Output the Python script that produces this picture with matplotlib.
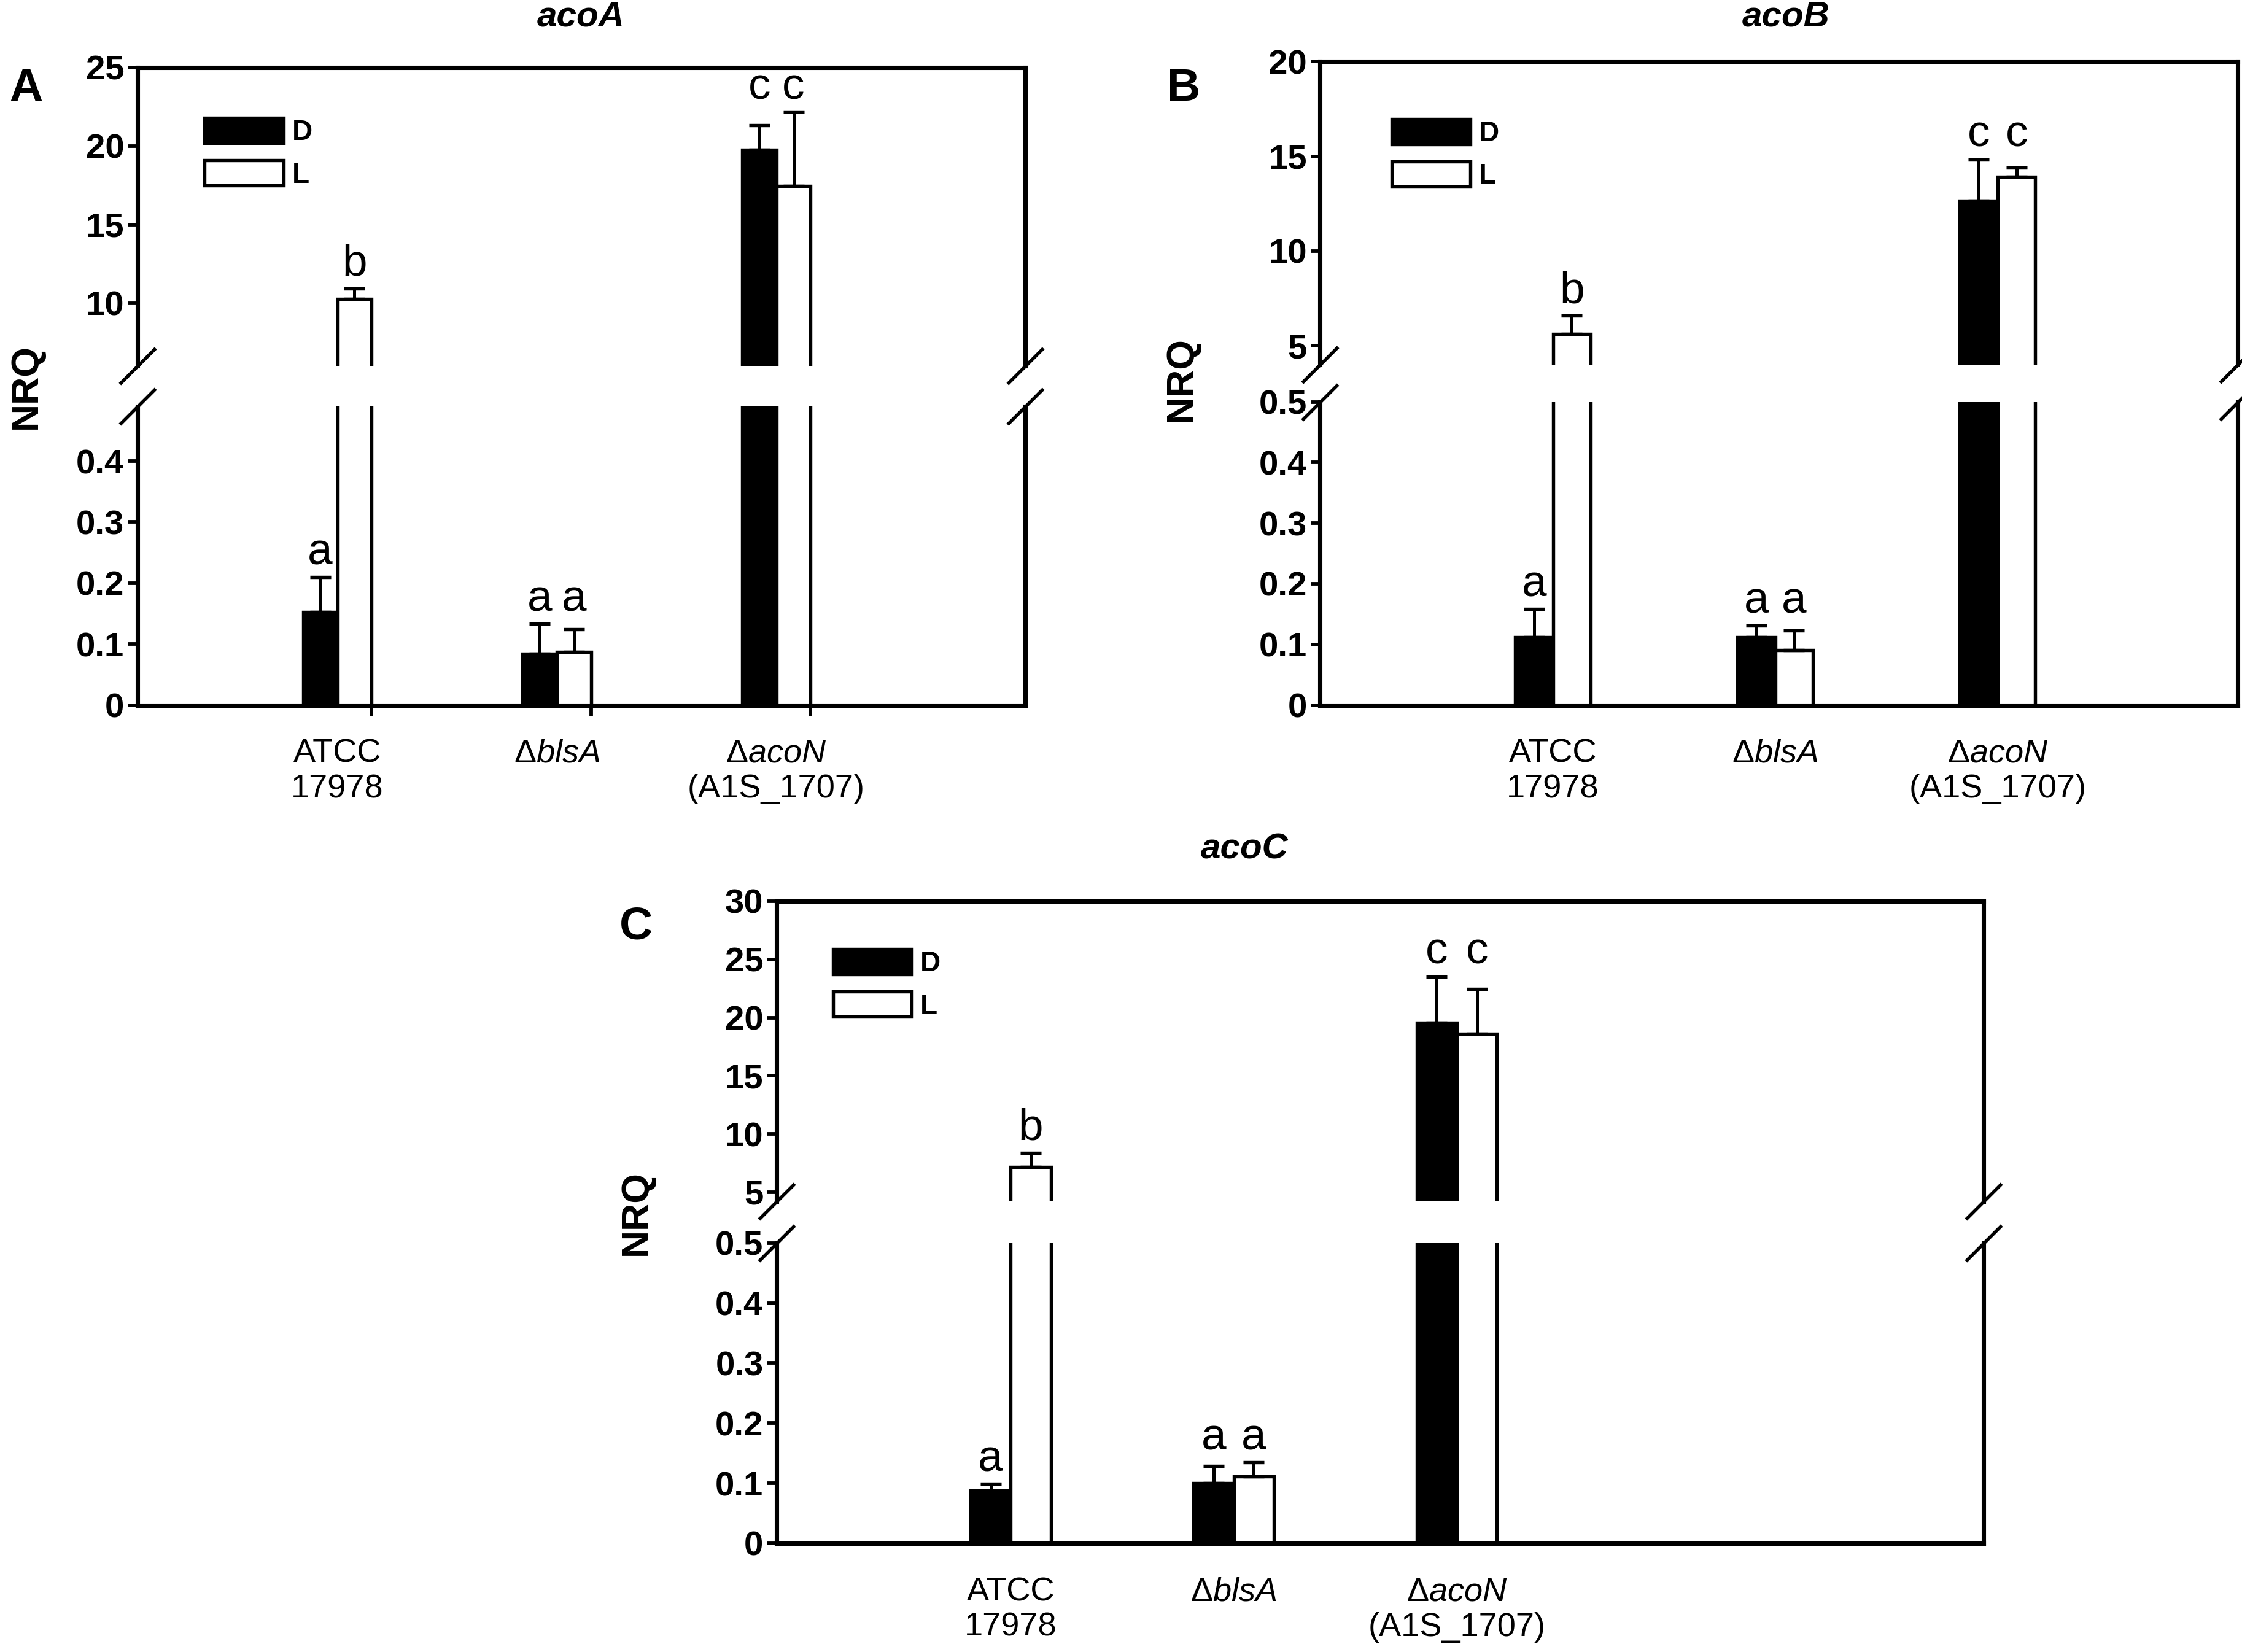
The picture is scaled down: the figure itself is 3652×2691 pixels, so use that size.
import numpy as np
import matplotlib
matplotlib.use('Agg')
import matplotlib.pyplot as plt

plt.rcParams['font.family'] = ['Liberation Sans', 'DejaVu Sans']
plt.rcParams['mathtext.fontset'] = 'custom'
plt.rcParams['mathtext.rm'] = 'Liberation Sans'
plt.rcParams['mathtext.it'] = 'Liberation Sans:italic'
plt.rcParams['mathtext.bf'] = 'Liberation Sans:bold'


# strains on the x axis
groups = ['ATCC\n17978', r'$\mathit{\Delta blsA}$', r'$\mathit{\Delta acoN}$' + '\n(A1S_1707)']
series_names = ['D', 'L']

# acoA
acoA_D = [0.153, 0.084, 19.77]
acoA_D_err = [0.057, 0.049, 1.56]
acoA_L = [10.25, 0.087, 17.43]
acoA_L_err = [0.70, 0.037, 4.74]

# acoB
acoB_D = [0.112, 0.112, 12.65]
acoB_D_err = [0.046, 0.019, 2.18]
acoB_L = [5.64, 0.091, 13.90]
acoB_L_err = [0.96, 0.032, 0.50]

# acoC
acoC_D = [0.088, 0.100, 19.54]
acoC_D_err = [0.011, 0.029, 3.99]
acoC_L = [7.16, 0.111, 18.62]
acoC_L_err = [1.24, 0.024, 3.81]

# significance letters
letters_D = ['a', 'a', 'c']
letters_L = ['b', 'a', 'c']


def draw_panel(left, width, up_rect, lo_rect, D, D_err, L, L_err, up_lim, up_ticks,
               lo_lim, lo_ticks, xlim, w, tick_shift, leg_xy):
    ax_up = fig.add_axes([left, up_rect[0], width, up_rect[1]])
    ax_lo = fig.add_axes([left, lo_rect[0], width, lo_rect[1]])
    x = np.arange(1, len(groups) + 1)

    for ax in (ax_up, ax_lo):
        ax.bar(x - w / 2, D, w, color='black', edgecolor='black', linewidth=1.3, label=series_names[0])
        ax.bar(x + w / 2, L, w, color='white', edgecolor='black', linewidth=1.3, label=series_names[1])
        ax.errorbar(x - w / 2, D, yerr=[np.zeros(len(D)), D_err], fmt='none', ecolor='black',
                    elinewidth=1.2, capsize=4, capthick=1.3)
        ax.errorbar(x + w / 2, L, yerr=[np.zeros(len(L)), L_err], fmt='none', ecolor='black',
                    elinewidth=1.2, capsize=4, capthick=1.3)
        ax.set_xlim(xlim)
        for s in ax.spines.values():
            s.set_linewidth(1.7)
        ax.tick_params(axis='y', direction='out', length=3.6, width=1.4, labelsize=13.5, pad=1.5)

    ax_up.set_ylim(up_lim)
    ax_up.set_yticks(up_ticks)
    ax_up.set_yticklabels([str(v) for v in up_ticks], fontweight='bold')
    ax_up.spines['bottom'].set_visible(False)
    ax_up.set_xticks([])

    ax_lo.set_ylim(lo_lim)
    ax_lo.set_yticks(lo_ticks)
    ax_lo.set_yticklabels(['0'] + ['%.1f' % v for v in lo_ticks[1:]], fontweight='bold')
    ax_lo.spines['top'].set_visible(False)
    ax_lo.set_xticks(x)
    ax_lo.set_xticklabels(groups, fontsize=13)
    ax_lo.tick_params(axis='x', which='major', length=0, pad=13)
    ax_lo.set_xticks(x + tick_shift, minor=True)
    ax_lo.tick_params(axis='x', which='minor', direction='out', length=4, width=1.4)

    # letters above error bars
    for i in range(len(groups)):
        for val, let, xx in ((D[i], letters_D[i], x[i] - w / 2),
                             (L[i], letters_L[i], x[i] + w / 2)):
            upper = val >= up_lim[0]
            ax = ax_up if upper else ax_lo
            tops = [t for t, v in zip((D[i] + D_err[i], L[i] + L_err[i]), (D[i], L[i]))
                    if (v >= up_lim[0]) == upper]
            ax.annotate(let, (xx, max(tops)), xytext=(0, 5), textcoords='offset points',
                        ha='center', va='baseline', fontsize=17.5)

    # break marks
    mk = dict(marker=[(-1, -1), (1, 1)], markersize=14, linestyle='none', color='k',
              mec='k', mew=1.3, clip_on=False)
    ax_up.plot([0, 1], [0, 0], transform=ax_up.transAxes, **mk)
    ax_lo.plot([0, 1], [1, 1], transform=ax_lo.transAxes, **mk)

    leg = ax_up.legend(loc='upper left', bbox_to_anchor=leg_xy, frameon=False, fontsize=11,
                       handlelength=2.8, handleheight=1.0, handletextpad=0.3, labelspacing=0.5,
                       borderpad=0, borderaxespad=0)
    for t in leg.get_texts():
        t.set_fontweight('bold')
    return ax_up, ax_lo


fig = plt.figure(figsize=(3652 / 300, 2691 / 300), dpi=300)

draw_panel(0.0612, 0.3961, (0.7784, 0.1809), (0.5732, 0.1809),
           acoA_D, acoA_D_err, acoA_L, acoA_L_err,
           (6, 25), [10, 15, 20, 25], (0, 0.49), [0, 0.1, 0.2, 0.3, 0.4],
           (0.088, 4.134), 0.156, 0.156, (0.076, 0.83))

draw_panel(0.5887, 0.4094, (0.7792, 0.1836), (0.5732, 0.1835),
           acoB_D, acoB_D_err, acoB_L, acoB_L_err,
           (4, 20), [5, 10, 15, 20], (0, 0.5), [0, 0.1, 0.2, 0.3, 0.4, 0.5],
           (-0.048, 4.08), 0.17, 0.0, (0.078, 0.81))

draw_panel(0.3463, 0.5383, (0.2727, 0.1818), (0.0658, 0.1818),
           acoC_D, acoC_D_err, acoC_L, acoC_L_err,
           (4.2, 30), [5, 10, 15, 20, 25, 30], (0, 0.5), [0, 0.1, 0.2, 0.3, 0.4, 0.5],
           (-0.05, 5.36), 0.18, 0.0, (0.047, 0.84))

# titles, panel letters, y labels
fig.text(0.259, 0.9896, 'acoA', ha='center', va='center', fontsize=14, fontweight='bold', fontstyle='italic')
fig.text(0.7966, 0.9896, 'acoB', ha='center', va='center', fontsize=14, fontweight='bold', fontstyle='italic')
fig.text(0.555, 0.4857, 'acoC', ha='center', va='center', fontsize=14, fontweight='bold', fontstyle='italic')

fig.text(0.0115, 0.9463, 'A', ha='center', va='center', fontsize=18, fontweight='bold')
fig.text(0.528, 0.9463, 'B', ha='center', va='center', fontsize=18, fontweight='bold')
fig.text(0.2838, 0.439, 'C', ha='center', va='center', fontsize=18, fontweight='bold')

fig.text(0.0115, 0.766, 'NRQ', ha='center', va='center', rotation=90, fontsize=15, fontweight='bold')
fig.text(0.527, 0.7706, 'NRQ', ha='center', va='center', rotation=90, fontsize=15, fontweight='bold')
fig.text(0.2838, 0.2658, 'NRQ', ha='center', va='center', rotation=90, fontsize=15, fontweight='bold')

plt.savefig('out.png', dpi=300)
